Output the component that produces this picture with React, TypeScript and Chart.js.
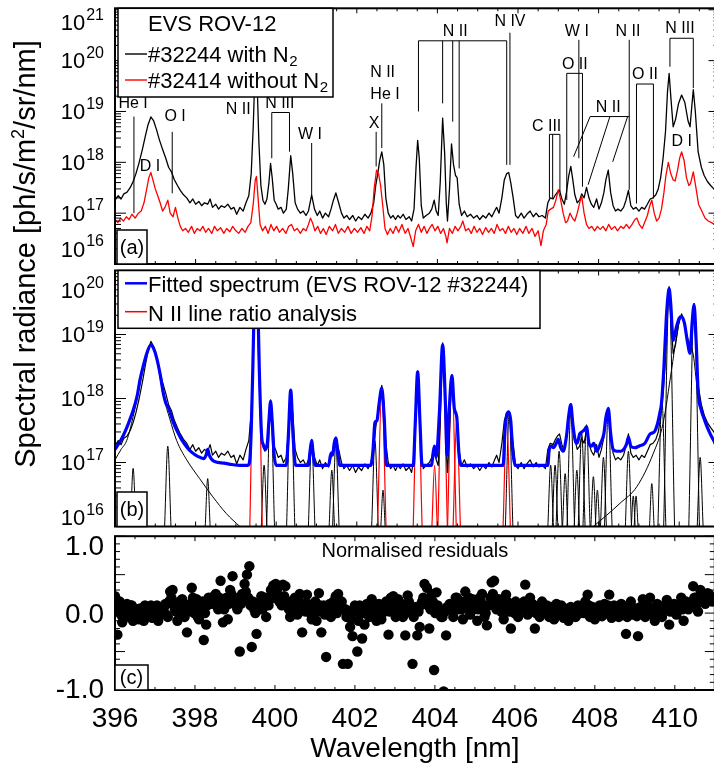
import React, { useEffect, useRef } from "react";
import { Chart, registerables } from "chart.js";

Chart.register(...registerables);

const SANS = '"Liberation Sans", Arial, Helvetica, sans-serif';

// ---------------- axes ----------------
const WL_MIN = 396;
const WL_MAX = 411;
const xTickLabels = [396, 398, 400, 402, 404, 406, 408, 410];
const panelADecades = [16, 17, 18, 19, 20, 21];
const panelBDecades = [16, 17, 18, 19, 20];
const residualTickValues = [-1, 0, 1];
const residualTickLabels = ["-1.0", "0.0", "1.0"];

// ---------------- panel (a): measured spectra ----------------
// [wavelength nm, spectral radiance ph/s/m^2/sr/nm]
const shot32244: [number, number][] = [
  [396.00,1.8e17],[396.08,2.2e17],[396.15,1.9e17],[396.22,2.4e17],[396.30,2.6e17],[396.38,3.2e17],[396.45,4.2e17],[396.52,6.0e17],[396.60,1.0e18],[396.68,1.8e18],
  [396.75,3.2e18],[396.82,5.5e18],[396.89,7.8e18],[396.96,6.5e18],[397.03,4.4e18],[397.10,2.8e18],[397.18,1.8e18],[397.26,1.2e18],[397.33,8.0e17],[397.40,6.5e17],
  [397.47,4.6e17],[397.55,3.5e17],[397.62,2.8e17],[397.70,2.3e17],[397.78,2.0e17],[397.86,1.6e17],[397.93,1.9e17],[398.00,1.5e17],[398.08,1.7e17],[398.15,1.4e17],
  [398.22,1.6e17],[398.30,1.5e17],[398.36,1.9e17],[398.42,1.3e17],[398.50,1.5e17],[398.57,1.2e17],[398.64,1.4e17],[398.72,1.3e17],[398.80,1.5e17],[398.88,1.2e17],
  [398.95,1.3e17],[399.02,9.5e16],[399.10,1.3e17],[399.18,1.1e17],[399.25,1.6e17],[399.32,2.2e17],[399.38,6.0e17],[399.43,5.0e18],[399.47,5.0e19],[399.50,2.0e20],
  [399.53,3.0e19],[399.57,2.5e18],[399.62,3.5e17],[399.67,1.8e17],[399.72,1.5e17],[399.77,1.9e17],[399.82,4.0e17],[399.86,9.5e17],[399.90,5.0e17],[399.95,1.8e17],
  [400.00,1.5e17],[400.05,1.2e17],[400.12,1.3e17],[400.18,1.0e17],[400.25,1.2e17],[400.30,3.0e17],[400.36,1.35e18],[400.41,6.0e17],[400.47,1.6e17],[400.53,1.2e17],
  [400.60,1.0e17],[400.67,1.1e17],[400.74,9.0e16],[400.80,1.1e17],[400.88,2.3e17],[400.95,1.2e17],[401.02,9.0e16],[401.08,1.1e17],[401.15,8.0e16],[401.22,1.0e17],
  [401.30,8.5e16],[401.36,1.2e17],[401.42,1.8e17],[401.48,2.5e17],[401.55,1.6e17],[401.62,1.0e17],[401.68,8.0e16],[401.75,9.0e16],[401.82,7.5e16],[401.90,9.0e16],
  [401.97,7.0e16],[402.04,8.5e16],[402.12,7.5e16],[402.20,9.5e16],[402.28,8.0e16],[402.35,1.0e17],[402.42,1.6e17],[402.47,3.5e17],[402.52,6.0e17],[402.57,1.1e18],
  [402.62,1.6e18],[402.67,9.0e17],[402.72,2.0e17],[402.78,1.0e17],[402.84,8.0e16],[402.90,9.0e16],[402.96,7.5e16],[403.02,9.0e16],[403.08,8.0e16],[403.15,9.5e16],
  [403.22,7.5e16],[403.30,8.5e16],[403.36,7.0e16],[403.42,1.2e17],[403.47,8.0e17],[403.51,2.7e18],[403.55,1.2e18],[403.60,1.4e17],[403.65,8.0e16],[403.72,9.0e16],
  [403.80,1.0e17],[403.86,1.2e17],[403.92,1.8e17],[403.97,1.1e17],[404.02,9.0e16],[404.07,4.0e17],[404.13,7.4e18],[404.18,1.5e18],[404.22,1.6e17],[404.25,7.0e16],
  [404.30,3.0e17],[404.35,2.3e18],[404.40,9.0e17],[404.45,5.5e17],[404.49,5.0e17],[404.54,1.5e17],[404.60,9.0e16],[404.67,1.1e17],[404.74,8.5e16],[404.82,9.5e16],
  [404.90,8.0e16],[404.98,9.0e16],[405.05,7.5e16],[405.13,9.0e16],[405.20,8.0e16],[405.28,1.0e17],[405.35,8.5e16],[405.42,1.1e17],[405.47,1.3e17],[405.53,1.0e17],
  [405.60,2.0e17],[405.66,4.5e17],[405.72,6.0e17],[405.77,6.3e17],[405.82,4.0e17],[405.88,2.0e17],[405.94,9.0e16],[406.00,8.0e16],[406.08,1.0e17],[406.15,8.0e16],
  [406.22,9.5e16],[406.30,1.1e17],[406.38,8.5e16],[406.45,1.0e17],[406.52,8.5e16],[406.60,9.0e16],[406.68,8.0e16],[406.74,1.6e17],[406.80,2.0e17],[406.87,1.9e17],
  [406.93,2.3e17],[406.98,2.6e17],[407.03,2.8e17],[407.09,1.9e17],[407.15,1.5e17],[407.20,2.5e17],[407.26,5.5e17],[407.31,8.3e17],[407.36,4.5e17],[407.41,2.3e17],
  [407.47,1.6e17],[407.53,1.8e17],[407.58,2.4e17],[407.64,2.0e17],[407.70,3.2e17],[407.76,2.0e17],[407.82,1.5e17],[407.88,1.3e17],[407.95,1.9e17],[408.01,1.2e17],
  [408.07,1.6e17],[408.13,2.5e17],[408.18,4.5e17],[408.24,7.0e17],[408.30,2.5e17],[408.36,1.4e17],[408.42,1.1e17],[408.48,1.2e17],[408.55,1.1e17],[408.62,1.3e17],
  [408.68,1.8e17],[408.74,2.8e17],[408.80,1.4e17],[408.86,1.2e17],[408.93,1.3e17],[409.00,1.1e17],[409.07,1.3e17],[409.14,1.2e17],[409.21,1.5e17],[409.28,1.9e17],
  [409.35,2.0e17],[409.42,2.3e17],[409.48,3.0e17],[409.54,5.0e17],[409.60,1.2e18],[409.66,4.0e18],[409.71,2.5e19],[409.75,5.6e19],[409.80,1.6e19],[409.85,5.0e18],
  [409.91,7.0e18],[409.98,1.4e19],[410.06,2.1e19],[410.14,1.5e19],[410.22,6.5e18],[410.27,5.0e18],[410.31,1.2e19],[410.35,2.7e19],[410.40,1.0e19],[410.47,1.6e18],
  [410.55,8.0e17],[410.62,5.5e17],[410.70,4.2e17],[410.78,3.5e17],[410.86,3.0e17],[410.95,2.6e17],[411.00,2.5e17],
];

const shot32414: [number, number][] = [
  [396.00,7.5e16],[396.07,6.5e16],[396.14,8.0e16],[396.21,7.0e16],[396.28,8.5e16],[396.35,7.5e16],[396.42,9.5e16],[396.50,8.0e16],[396.58,1.0e17],[396.65,1.1e17],
  [396.72,1.6e17],[396.78,2.8e17],[396.84,5.0e17],[396.89,6.3e17],[396.94,4.5e17],[397.00,3.0e17],[397.06,2.2e17],[397.12,1.6e17],[397.18,1.1e17],[397.24,1.3e17],
  [397.31,1.8e17],[397.37,1.0e17],[397.44,8.5e16],[397.50,1.3e17],[397.56,8.0e16],[397.62,5.5e16],[397.68,4.5e16],[397.75,5.0e16],[397.82,4.2e16],[397.90,5.5e16],
  [397.97,4.0e16],[398.04,5.0e16],[398.11,4.5e16],[398.18,5.5e16],[398.25,4.2e16],[398.32,5.0e16],[398.40,4.0e16],[398.47,5.5e16],[398.54,4.5e16],[398.62,5.2e16],
  [398.70,4.0e16],[398.77,5.0e16],[398.85,4.3e16],[398.92,5.5e16],[399.00,4.5e16],[399.07,4.0e16],[399.15,5.0e16],[399.23,4.2e16],[399.30,5.5e16],[399.37,6.5e16],
  [399.43,1.5e17],[399.48,4.5e17],[399.51,5.3e17],[399.55,2.0e17],[399.60,6.0e16],[399.66,4.5e16],[399.73,5.5e16],[399.80,4.0e16],[399.87,6.0e16],[399.94,4.5e16],
  [400.01,5.5e16],[400.08,4.2e16],[400.16,5.0e16],[400.24,4.0e16],[400.31,5.5e16],[400.38,6.0e16],[400.45,4.5e16],[400.52,5.0e16],[400.60,4.0e16],[400.67,5.0e16],
  [400.74,4.5e16],[400.80,6.0e16],[400.85,8.0e16],[400.90,6.5e16],[400.96,4.5e16],[401.03,5.5e16],[401.10,4.0e16],[401.17,5.0e16],[401.24,3.8e16],[401.32,5.5e16],
  [401.40,4.5e16],[401.47,6.0e16],[401.54,4.0e16],[401.62,5.0e16],[401.70,4.2e16],[401.78,5.5e16],[401.86,4.0e16],[401.94,5.0e16],[402.02,4.2e16],[402.10,5.2e16],
  [402.18,4.0e16],[402.25,5.5e16],[402.32,4.5e16],[402.38,9.0e16],[402.43,3.0e17],[402.49,7.0e17],[402.54,6.0e17],[402.59,3.5e17],[402.64,1.5e17],[402.70,5.0e16],
  [402.76,3.8e16],[402.83,5.0e16],[402.90,4.0e16],[402.97,5.5e16],[403.04,4.2e16],[403.12,6.0e16],[403.20,4.0e16],[403.27,5.0e16],[403.33,3.5e16],[403.40,2.2e16],
  [403.46,4.5e16],[403.53,6.0e16],[403.60,4.2e16],[403.67,5.5e16],[403.74,4.0e16],[403.80,5.0e16],[403.87,6.0e16],[403.94,4.5e16],[404.01,5.5e16],[404.08,4.0e16],
  [404.15,5.0e16],[404.21,3.5e16],[404.24,2.6e16],[404.30,5.0e16],[404.37,4.0e16],[404.44,5.5e16],[404.51,4.5e16],[404.58,5.5e16],[404.63,7.0e16],[404.70,4.5e16],
  [404.77,5.0e16],[404.84,4.0e16],[404.91,5.5e16],[404.98,4.2e16],[405.05,5.0e16],[405.12,3.8e16],[405.20,5.2e16],[405.27,4.2e16],[405.34,5.0e16],[405.41,4.0e16],
  [405.48,6.0e16],[405.55,4.5e16],[405.62,5.0e16],[405.69,4.0e16],[405.76,5.5e16],[405.83,4.2e16],[405.90,5.0e16],[405.97,3.8e16],[406.04,5.0e16],[406.12,4.0e16],
  [406.20,5.5e16],[406.27,4.0e16],[406.35,5.0e16],[406.42,3.5e16],[406.50,4.5e16],[406.57,2.3e16],[406.63,4.5e16],[406.70,6.0e16],[406.75,1.1e17],[406.81,1.2e17],
  [406.88,1.3e17],[406.94,1.8e17],[407.00,2.9e17],[407.06,1.8e17],[407.12,1.0e17],[407.18,6.5e16],[407.23,7.0e16],[407.29,1.0e17],[407.35,8.0e16],[407.41,7.0e16],
  [407.47,1.0e17],[407.53,1.6e17],[407.58,2.2e17],[407.64,1.0e17],[407.70,6.0e16],[407.76,5.0e16],[407.83,5.5e16],[407.90,4.5e16],[407.97,5.5e16],[408.04,4.8e16],
  [408.11,5.5e16],[408.18,4.5e16],[408.25,6.0e16],[408.32,4.8e16],[408.40,5.5e16],[408.47,4.5e16],[408.55,5.5e16],[408.62,5.0e16],[408.69,6.0e16],[408.76,5.0e16],
  [408.83,6.0e16],[408.90,7.5e16],[408.95,8.0e16],[409.01,6.0e16],[409.08,5.0e16],[409.14,6.5e16],[409.21,9.0e16],[409.27,1.4e17],[409.32,1.8e17],[409.38,1.0e17],
  [409.44,7.0e16],[409.50,8.0e16],[409.56,1.2e17],[409.62,2.5e17],[409.67,5.5e17],[409.73,1.0e18],[409.79,6.0e17],[409.85,4.5e17],[409.90,4.3e17],[409.96,7.0e17],
  [410.01,1.2e18],[410.06,1.6e18],[410.12,1.1e18],[410.18,5.0e17],[410.24,3.5e17],[410.28,3.8e17],[410.35,6.5e17],[410.42,3.0e17],[410.48,1.5e17],[410.56,1.1e17],
  [410.64,8.0e16],[410.72,7.0e16],[410.80,6.5e16],[410.88,6.0e16],[411.00,6.0e16],
];

// ---------------- panel (b): fit and its components ----------------
const fitSpectrum: [number, number][] = [
  [396.00,1.6e17],[396.10,2.0e17],[396.20,2.6e17],[396.30,3.6e17],[396.40,5.3e17],[396.45,6.5e17],[396.55,1.1e18],[396.62,1.95e18],[396.70,3.2e18],[396.79,5.1e18],
  [396.89,6.9e18],[396.96,6.0e18],[397.03,4.4e18],[397.12,2.4e18],[397.20,1.2e18],[397.27,8.2e17],[397.31,7.6e17],[397.36,6.2e17],[397.45,4.2e17],[397.53,3.2e17],
  [397.65,2.3e17],[397.78,1.75e17],[397.90,1.45e17],[398.05,1.25e17],[398.20,1.15e17],[398.26,1.3e17],[398.30,1.6e17],[398.34,1.3e17],[398.45,1.05e17],[398.70,9.8e16],
  [398.90,9.3e16],[399.10,9.0e16],[399.30,9.0e16],[399.36,1.5e17],[399.42,3.0e18],[399.47,8.0e19],[399.50,2.0e20],[399.53,8.0e19],[399.58,3.0e18],[399.64,2.5e17],
  [399.68,1.9e17],[399.73,1.6e17],[399.78,2.0e17],[399.82,4.5e17],[399.86,9.0e17],[399.90,4.5e17],[399.95,1.3e17],[400.00,9.0e16],[400.25,9.0e16],[400.30,2.5e17],
  [400.36,1.35e18],[400.42,2.5e17],[400.48,9.0e16],[400.80,9.0e16],[400.84,1.5e17],[400.88,2.2e17],[400.92,1.3e17],[400.97,9.0e16],[401.30,9.0e16],[401.36,1.4e17],
  [401.40,1.3e17],[401.44,2.0e17],[401.48,2.4e17],[401.53,1.4e17],[401.58,9.0e16],[402.35,9.0e16],[402.40,1.5e17],[402.45,4.2e17],[402.50,4.5e17],[402.55,8.0e17],
  [402.62,1.45e18],[402.68,5.0e17],[402.74,9.0e16],[403.40,9.0e16],[403.45,4.0e17],[403.51,2.6e18],[403.57,4.0e17],[403.62,9.0e16],[403.85,9.0e16],[403.90,1.5e17],
  [403.93,1.8e17],[403.97,1.2e17],[404.05,6.0e17],[404.13,6.9e18],[404.20,8.0e17],[404.24,1.3e17],[404.29,6.0e17],[404.36,2.3e18],[404.42,7.0e17],[404.48,5.2e17],
  [404.53,1.5e17],[404.58,9.0e16],[405.63,9.0e16],[405.68,3.5e17],[405.72,5.5e17],[405.77,6.2e17],[405.82,4.5e17],[405.87,1.5e17],[405.93,9.0e16],[406.74,9.0e16],
  [406.77,1.5e17],[406.82,1.8e17],[406.88,1.7e17],[406.95,2.0e17],[407.00,2.3e17],[407.06,1.7e17],[407.12,1.5e17],[407.20,2.5e17],[407.26,5.5e17],[407.31,8.0e17],
  [407.36,4.0e17],[407.42,2.2e17],[407.47,2.0e17],[407.53,2.8e17],[407.58,3.0e17],[407.64,3.2e17],[407.70,3.6e17],[407.76,2.0e17],[407.82,1.8e17],[407.88,2.0e17],
  [407.95,1.5e17],[408.05,2.0e17],[408.13,2.8e17],[408.18,5.0e17],[408.24,7.0e17],[408.30,2.8e17],[408.36,1.6e17],[408.45,1.5e17],[408.55,1.5e17],[408.65,1.7e17],
  [408.70,2.0e17],[408.74,2.5e17],[408.80,1.8e17],[408.90,1.7e17],[409.00,1.8e17],[409.15,2.0e17],[409.28,2.8e17],[409.38,3.0e17],[409.46,4.0e17],[409.52,6.0e17],
  [409.56,8.3e17],[409.62,3.0e18],[409.68,1.8e19],[409.73,4.5e19],[409.75,5.2e19],[409.79,3.0e19],[409.85,8.1e18],[409.93,1.3e19],[410.00,1.8e19],[410.06,1.9e19],
  [410.13,1.5e19],[410.20,8.0e18],[410.27,5.1e18],[410.32,1.5e19],[410.37,2.9e19],[410.42,8.0e18],[410.47,1.3e18],[410.55,6.5e17],[410.60,5.2e17],[410.70,3.5e17],
  [410.86,2.2e17],[411.00,1.8e17],
];

// broad D I (Lorentzian-like) components
const deuterium397: [number, number][] = [
  [396.00,1.1e17],[396.15,1.6e17],[396.29,2.2e17],[396.45,5.2e17],[396.62,1.7e18],[396.79,5.1e18],[396.89,7.2e18],[397.03,4.2e18],[397.20,1.1e18],[397.36,4.8e17],
  [397.53,2.2e17],[397.78,1.1e17],[398.10,5.6e16],[398.43,2.9e16],[398.76,1.6e16],[399.10,1.0e16],[399.40,7.0e15],
];
const deuterium410: [number, number][] = [
  [407.60,7.0e15],[407.87,1.0e16],[408.20,1.5e16],[408.53,2.3e16],[408.95,4.2e16],[409.36,1.4e17],[409.60,4.1e17],[409.81,2.8e18],[409.93,9.0e18],[410.06,2.0e19],
  [410.18,1.0e19],[410.35,4.8e18],[410.45,1.4e18],[410.52,9.0e17],[410.68,4.1e17],[410.86,2.0e17],[411.00,1.3e17],
];

// narrow components: [centre nm, peak radiance, half-width at 1e16 (nm)]
const otherLines: [number, number, number][] = [
  [396.45,8.1e16,0.067],[397.31,1.8e17,0.079],[398.30,5.6e16,0.061],[399.70,9.1e16,0.069],[399.86,9.0e17,0.098],
  [400.36,1.35e18,0.102],[400.88,2.2e17,0.081],[401.38,7.6e16,0.066],[401.48,2.0e17,0.08],[402.45,2.2e17,0.081],
  [402.65,3.7e16,0.053],[405.78,5.6e17,0.093],[406.81,9.1e16,0.069],[406.92,9.1e16,0.069],[407.02,1.5e17,0.076],
  [407.17,6.7e16,0.064],[407.31,6.2e17,0.094],[407.46,7.6e16,0.066],[407.58,2.9e17,0.085],[407.70,3.9e17,0.088],
  [407.87,6.0e16,0.062],[407.97,3.7e16,0.053],[408.12,1.2e17,0.073],[408.24,6.2e17,0.094],[408.74,1.5e17,0.076],
  [408.86,3.0e16,0.048],[408.93,3.0e16,0.048],[409.32,4.7e16,0.057],[409.57,9.6e17,0.099],[409.75,4.4e19,0.135],
  [410.37,3.1e19,0.132],[410.52,1.2e17,0.073],
];
const n2Lines: [number, number, number][] = [
  [399.50,2.0e20,0.155],[402.62,1.45e18,0.105],[403.51,2.6e18,0.11],[403.93,9.0e16,0.066],
  [404.13,6.9e18,0.117],[404.36,2.3e18,0.108],[404.48,5.0e17,0.09],[405.72,5.0e17,0.09],
];

// ---------------- panel (c): residuals (two interleaved pixel sets) ----------------
const residualStart = 396.0;
const residualStep = 0.06;
const residuals: number[] = [
  0.22,-0.28,0.15,-0.12,0.08,0.12,-0.05,0.1,-0.08,0.05,
  -0.08,0.05,-0.1,0.08,-0.02,0.1,-0.06,0.04,-0.1,0.06,
  0.0,0.12,-0.05,0.28,0.3,0.05,-0.1,0.15,0.18,-0.05,
  -0.25,0.1,0.33,0.0,0.18,-0.08,0.05,-0.35,-0.15,0.2,
  0.2,0.15,0.25,0.05,0.42,-0.12,0.1,-0.08,0.3,0.48,
  0.18,0.05,-0.5,0.25,0.38,0.5,0.61,-0.44,0.05,-0.27,
  0.05,0.22,0.12,-0.05,0.1,0.3,0.36,0.38,0.35,0.2,
  0.37,0.35,0.1,-0.05,0.15,0.2,-0.02,0.25,-0.25,0.12,
  0.24,0.05,-0.08,0.12,-0.1,0.26,-0.25,0.1,-0.57,0.1,
  -0.05,0.15,0.22,0.25,0.08,-0.66,0.05,-0.66,-0.18,-0.3,
  0.1,-0.5,0.1,-0.33,-0.15,0.12,-0.05,0.18,0.08,-0.1,
  0.12,-0.08,0.05,0.15,-0.28,0.2,0.22,-0.05,0.18,0.08,
  -0.05,-0.29,0.23,0.1,-0.66,0.05,-0.29,-0.18,0.15,0.38,
  0.33,-0.2,0.25,-0.74,0.27,0.03,-0.05,-1.02,-0.29,0.05,
  0.1,-0.05,0.2,0.05,0.15,-0.08,0.28,0.12,-0.02,0.18,
  0.08,-0.1,0.2,0.25,-0.05,-0.16,0.1,0.4,0.42,0.05,
  0.18,0.02,-0.08,0.24,0.1,-0.2,0.05,0.15,-0.05,0.12,
  0.05,0.37,-0.02,0.2,0.12,-0.2,0.08,-0.05,0.15,0.02,
  0.1,-0.05,0.08,-0.08,0.12,0.0,0.1,-0.06,0.05,-0.1,
  0.08,0.02,-0.05,0.1,0.0,0.06,0.15,0.24,-0.05,0.08,
  -0.08,0.05,0.1,-0.04,0.12,0.0,0.24,-0.06,0.1,0.05,
  -0.05,0.12,0.02,-0.27,0.1,0.15,-0.02,0.06,-0.3,0.08,
  0.18,-0.05,0.1,0.2,0.0,-0.1,0.12,0.05,-0.05,0.1,
  0.17,-0.15,0.05,0.12,-0.02,0.08,0.2,-0.1,0.15,0.05,
  0.1,0.35,0.2,0.02,0.3,0.24,0.12,0.26,0.18,0.15,
  0.2,
];
const residualsOffsetStart = 396.03;
const residualsOffset: number[] = [
  0.05,0.12,-0.02,0.08,-0.05,0.02,0.1,-0.1,0.04,0.0,
  0.06,-0.04,0.1,0.0,0.08,-0.06,0.05,0.1,-0.02,0.04,
  0.08,-0.02,0.15,0.2,0.1,0.02,0.08,-0.02,0.12,0.05,
  0.02,0.12,0.2,0.08,-0.05,0.12,0.15,0.0,0.1,0.18,
  0.12,0.22,0.1,0.2,0.15,0.05,0.2,0.12,0.25,0.15,
  0.1,0.2,0.12,0.18,0.28,0.2,0.1,0.15,0.0,0.1,
  0.15,0.05,0.2,0.12,0.18,0.25,0.2,0.3,0.15,0.1,
  0.22,0.12,0.05,0.15,0.08,0.12,0.18,0.05,0.1,0.02,
  0.12,0.0,0.08,0.15,0.02,0.1,0.05,-0.02,0.08,0.12,
  0.05,0.1,0.0,0.12,0.15,0.05,-0.05,0.02,-0.08,0.05,
  0.02,-0.1,0.05,0.0,0.1,-0.02,0.08,0.12,0.0,0.05,
  0.08,0.0,0.12,0.05,0.02,0.1,0.15,0.05,0.1,0.12,
  0.05,0.1,0.15,0.0,-0.05,0.08,0.02,0.1,0.2,0.15,
  0.1,0.05,0.15,0.0,0.1,0.05,-0.05,0.02,0.08,0.12,
  0.05,0.12,0.2,0.1,0.05,0.15,0.08,0.2,0.1,0.05,
  0.12,0.05,0.15,0.08,0.0,0.1,0.2,0.25,0.12,0.1,
  0.05,0.12,0.08,0.15,0.02,0.1,0.0,0.12,0.08,0.05,
  0.15,0.08,0.12,0.05,0.1,0.0,0.05,0.1,0.02,0.08,
  0.02,0.06,-0.04,0.05,0.08,-0.02,0.04,0.06,0.0,0.05,
  0.04,-0.03,0.06,0.02,0.08,0.0,0.05,0.1,0.02,0.0,
  0.05,-0.02,0.06,0.08,0.02,0.1,0.05,0.0,0.06,0.02,
  0.04,0.0,0.08,-0.05,0.02,0.06,0.03,-0.04,0.05,0.02,
  0.06,0.02,0.08,0.05,-0.03,0.04,0.08,0.0,0.06,0.1,
  0.05,0.02,0.1,0.06,0.04,0.12,0.05,0.08,0.1,0.12,
  0.15,0.2,0.12,0.18,0.22,0.15,0.2,0.25,0.18,0.2,
];

// ---------------- panel (a) line identifications ----------------
// text centre: wavelength, log10(radiance)
const lineLabels: { text: string; wl: number; exp: number }[] = [
  { text: "He I", wl: 396.45, exp: 19.16 },
  { text: "D I", wl: 396.87, exp: 17.92 },
  { text: "O I", wl: 397.49, exp: 18.9 },
  { text: "N II", wl: 399.06, exp: 19.03 },
  { text: "N III", wl: 400.09, exp: 19.16 },
  { text: "W I", wl: 400.84, exp: 18.54 },
  { text: "X", wl: 402.43, exp: 18.76 },
  { text: "N II", wl: 402.64, exp: 19.77 },
  { text: "He I", wl: 402.7, exp: 19.33 },
  { text: "N II", wl: 404.44, exp: 20.57 },
  { text: "N IV", wl: 405.8, exp: 20.77 },
  { text: "C III", wl: 406.71, exp: 18.7 },
  { text: "O II", wl: 407.41, exp: 19.92 },
  { text: "W I", wl: 407.46, exp: 20.57 },
  { text: "N II", wl: 408.24, exp: 19.07 },
  { text: "N II", wl: 408.73, exp: 20.57 },
  { text: "O II", wl: 409.15, exp: 19.72 },
  { text: "N III", wl: 410.02, exp: 20.64 },
  { text: "D I", wl: 410.06, exp: 18.41 },
];
// marker segments: [wl1, log10 y1, wl2, log10 y2]
const labelSegments: [number, number, number, number][] = [
  [396.47,18.9,396.47,17.0],[397.42,18.6,397.42,17.39],
  [399.89,18.98,400.33,18.98],[399.89,18.98,399.89,18.08],[400.33,18.98,400.33,18.21],
  [400.88,18.38,400.88,17.36],[402.48,18.6,402.48,17.92],[402.62,19.16,402.62,18.28],
  [403.53,20.39,405.72,20.39],[403.53,20.39,403.53,19.0],[404.13,20.39,404.13,19.16],[404.38,20.39,404.38,18.8],
  [404.54,20.39,404.54,17.88],[405.72,20.39,405.72,17.95],[405.8,20.55,405.8,17.95],
  [406.78,18.55,407.04,18.55],[406.78,18.55,406.78,17.3],[406.86,18.55,406.86,17.3],[407.04,18.55,407.04,17.42],
  [407.21,19.75,407.6,19.75],[407.21,19.75,407.21,17.26],[407.6,19.75,407.6,17.52],
  [407.51,20.41,407.51,18.08],
  [407.79,18.9,408.76,18.9],[407.79,18.9,407.38,18.11],[408.28,18.9,407.74,17.56],[408.72,18.9,408.35,18.01],
  [408.76,20.41,408.76,17.46],
  [408.94,19.54,409.36,19.54],[408.94,19.54,408.94,17.19],[409.36,19.54,409.36,17.29],
  [409.77,20.44,410.35,20.44],[409.77,20.44,409.77,19.88],[410.35,20.44,410.35,19.46],
];

// ---------------- helpers ----------------
const toPts = (arr: [number, number][]) => arr.map(([x, y]) => ({ x, y }));
const spikePts = ([c, p, w]: [number, number, number]) => [
  { x: c - w, y: 1e16 },
  { x: c, y: p },
  { x: c + w, y: 1e16 },
];

function baseOptions(padding: any, y: any): any {
  return {
    animation: false,
    responsive: false,
    devicePixelRatio: 1,
    events: [],
    layout: { padding },
    plugins: { legend: { display: false }, tooltip: { enabled: false }, title: { display: false } },
    elements: { point: { radius: 0 }, line: { tension: 0, borderJoinStyle: "round" } },
    scales: {
      x: { type: "linear", min: WL_MIN, max: WL_MAX, display: false },
      y: { ...y, display: false },
    },
  };
}

function drawFrame(chart: any, log: boolean, yMajor: number, yMinor: number) {
  const { ctx, chartArea: a } = chart;
  const xs = chart.scales.x;
  const ys = chart.scales.y;
  ctx.save();
  ctx.strokeStyle = "#000";
  ctx.lineWidth = 1;
  ctx.beginPath();
  for (let k = 0; k <= (WL_MAX - WL_MIN) * 2; k++) {
    const v = WL_MIN + k * 0.5;
    const px = xs.getPixelForValue(v);
    const len = k % 4 === 0 ? 5 : 3;
    ctx.moveTo(px, a.bottom);
    ctx.lineTo(px, a.bottom - len);
    ctx.moveTo(px, a.top);
    ctx.lineTo(px, a.top + len);
  }
  const yt: [number, boolean][] = [];
  if (log) {
    const e0 = Math.floor(Math.log10(ys.min));
    const e1 = Math.ceil(Math.log10(ys.max));
    for (let e = e0; e <= e1; e++) {
      for (let m = 1; m <= 9; m++) {
        const v = m * Math.pow(10, e);
        if (v < ys.min * 0.999 || v > ys.max * 1.001) continue;
        yt.push([ys.getPixelForValue(v), m === 1]);
      }
    }
  } else {
    for (let k = -10; k <= 10; k++) yt.push([ys.getPixelForValue(k / 10), k % 5 === 0]);
  }
  for (const [py, major] of yt) {
    const len = major ? yMajor : yMinor;
    ctx.moveTo(a.left, py);
    ctx.lineTo(a.left + len, py);
    ctx.moveTo(a.right, py);
    ctx.lineTo(a.right - len, py);
  }
  ctx.stroke();
  ctx.lineWidth = 2;
  ctx.strokeRect(a.left, a.top, a.right - a.left, a.bottom - a.top);
  ctx.restore();
}

function drawPow(ctx: any, e: number, right: number, cy: number) {
  ctx.textAlign = "left";
  ctx.textBaseline = "alphabetic";
  ctx.font = `16px ${SANS}`;
  const sw = ctx.measureText(String(e)).width;
  ctx.font = `22px ${SANS}`;
  const bw = ctx.measureText("10").width;
  const base = cy + 7.8;
  ctx.fillText("10", right - sw - bw - 1, base);
  ctx.font = `16px ${SANS}`;
  ctx.fillText(String(e), right - sw, base - 10.5);
}

function drawLogLabels(chart: any, decades: number[], mTop: number, mBot: number) {
  const { ctx, chartArea: a } = chart;
  const ys = chart.scales.y;
  ctx.save();
  ctx.fillStyle = "#000";
  for (const e of decades) {
    let cy = ys.getPixelForValue(Math.pow(10, e));
    cy = Math.min(Math.max(cy, a.top + mTop), a.bottom - mBot);
    drawPow(ctx, e, 104, cy);
  }
  ctx.restore();
}

function seg(ctx: any, x1: number, y1: number, x2: number, y2: number, color: string, w: number) {
  ctx.save();
  ctx.strokeStyle = color;
  ctx.lineWidth = w;
  ctx.beginPath();
  ctx.moveTo(x1, y1);
  ctx.lineTo(x2, y2);
  ctx.stroke();
  ctx.restore();
}

function textWithSub(ctx: any, main: string, sub: string, x: number, base: number) {
  ctx.textAlign = "left";
  ctx.textBaseline = "alphabetic";
  ctx.font = `22px ${SANS}`;
  ctx.fillText(main, x, base);
  const w = ctx.measureText(main).width;
  ctx.font = `15px ${SANS}`;
  ctx.fillText(sub, x + w + 0.5, base + 4.5);
}

function panelTag(ctx: any, text: string, x: number, y: number, w: number, h: number) {
  ctx.save();
  ctx.fillStyle = "#fff";
  ctx.fillRect(x, y, w, h);
  ctx.strokeStyle = "#000";
  ctx.lineWidth = 1.5;
  ctx.strokeRect(x, y, w, h);
  ctx.fillStyle = "#000";
  ctx.font = `20px ${SANS}`;
  ctx.textAlign = "center";
  ctx.textBaseline = "middle";
  ctx.fillText(text, x + w / 2, y + h / 2 + 1);
  ctx.restore();
}

// ---------------- charts ----------------
function buildA(canvas: HTMLCanvasElement) {
  return new Chart(canvas, {
    type: "line",
    data: {
      datasets: [
        { data: toPts(shot32414), borderColor: "#ff0000", borderWidth: 1.3, clip: 0, order: 0 } as any,
        { data: toPts(shot32244), borderColor: "#000000", borderWidth: 1.3, clip: 0, order: 1 } as any,
      ],
    },
    options: baseOptions({ left: 115, right: 0.5, top: 8.3, bottom: 4 }, { type: "logarithmic", min: 1e16, max: 1.07e21 }),
    plugins: [
      {
        id: "panelA",
        afterDraw(chart: any) {
          const ctx = chart.ctx;
          const xs = chart.scales.x;
          const ys = chart.scales.y;
          ctx.save();
          ctx.strokeStyle = "#000";
          ctx.lineWidth = 1;
          ctx.beginPath();
          for (const [w1, e1, w2, e2] of labelSegments) {
            ctx.moveTo(xs.getPixelForValue(w1), ys.getPixelForValue(Math.pow(10, e1)));
            ctx.lineTo(xs.getPixelForValue(w2), ys.getPixelForValue(Math.pow(10, e2)));
          }
          ctx.stroke();
          ctx.fillStyle = "#000";
          ctx.font = `16px ${SANS}`;
          ctx.textAlign = "center";
          ctx.textBaseline = "middle";
          for (const l of lineLabels) {
            ctx.fillText(l.text, xs.getPixelForValue(l.wl), ys.getPixelForValue(Math.pow(10, l.exp)));
          }
          ctx.restore();
          drawFrame(chart, true, 11, 6);
          drawLogLabels(chart, panelADecades, 14, 15);
          ctx.save();
          ctx.fillStyle = "#fff";
          ctx.fillRect(118, 8.3, 215, 88.7);
          ctx.strokeStyle = "#000";
          ctx.lineWidth = 1.5;
          ctx.strokeRect(118, 8.3, 215, 88.7);
          ctx.fillStyle = "#000";
          ctx.font = `22px ${SANS}`;
          ctx.textAlign = "left";
          ctx.textBaseline = "alphabetic";
          ctx.fillText("EVS ROV-12", 148, 30.5);
          seg(ctx, 125, 54, 147, 54, "#000", 1.4);
          textWithSub(ctx, "#32244 with N", "2", 148, 61.5);
          seg(ctx, 125, 80, 147, 80, "#ff0000", 1.4);
          textWithSub(ctx, "#32414 without N", "2", 148, 87.5);
          ctx.restore();
          panelTag(ctx, "(a)", 117, 230, 30, 34);
        },
      },
    ],
  });
}

function buildB(canvas: HTMLCanvasElement) {
  const datasets: any[] = [
    { data: toPts(fitSpectrum), borderColor: "#0000ff", borderWidth: 3.2, cubicInterpolationMode: "monotone", clip: 0, order: 0 },
    { data: toPts(shot32244), borderColor: "#000000", borderWidth: 1.2, clip: 0, order: 1 },
  ];
  for (const l of n2Lines) {
    datasets.push({ data: spikePts(l), borderColor: "#ff0000", borderWidth: 1.2, cubicInterpolationMode: "monotone", clip: 0, order: 2 });
  }
  for (const l of otherLines) {
    datasets.push({ data: spikePts(l), borderColor: "#000000", borderWidth: 1, cubicInterpolationMode: "monotone", clip: 0, order: 3 });
  }
  datasets.push({ data: toPts(deuterium397), borderColor: "#000000", borderWidth: 1, cubicInterpolationMode: "monotone", clip: 0, order: 3 });
  datasets.push({ data: toPts(deuterium410), borderColor: "#000000", borderWidth: 1, cubicInterpolationMode: "monotone", clip: 0, order: 3 });
  return new Chart(canvas, {
    type: "line",
    data: { datasets },
    options: baseOptions({ left: 115, right: 0.5, top: 2.5, bottom: 4.5 }, { type: "logarithmic", min: 1e16, max: 1e20 }),
    plugins: [
      {
        id: "panelB",
        afterDraw(chart: any) {
          const ctx = chart.ctx;
          drawFrame(chart, true, 11, 6);
          drawLogLabels(chart, panelBDecades, 20, 9);
          ctx.save();
          ctx.fillStyle = "#fff";
          ctx.fillRect(118, 2.5, 422, 57.8);
          ctx.strokeStyle = "#000";
          ctx.lineWidth = 1.5;
          ctx.strokeRect(118, 2.5, 422, 57.8);
          seg(ctx, 125, 15.3, 147, 15.3, "#0000ff", 2.5);
          seg(ctx, 125, 43.7, 147, 43.7, "#ff0000", 1.5);
          ctx.fillStyle = "#000";
          ctx.font = `22px ${SANS}`;
          ctx.textAlign = "left";
          ctx.textBaseline = "alphabetic";
          ctx.fillText("Fitted spectrum (EVS ROV-12 #32244)", 148, 24.3);
          ctx.fillText("N II line ratio analysis", 148, 52.7);
          ctx.restore();
          panelTag(ctx, "(b)", 117, 224, 30, 34.5);
        },
      },
    ],
  });
}

function buildC(canvas: HTMLCanvasElement) {
  const ptsMain = residuals.map((v, i) => ({ x: residualStart + i * residualStep, y: v }));
  const ptsOffset = residualsOffset.map((v, i) => ({ x: residualsOffsetStart + i * residualStep, y: v }));
  const dotStyle = {
    showLine: false,
    pointRadius: 5.2,
    pointBackgroundColor: "#000",
    pointBorderColor: "#000",
    pointBorderWidth: 0,
    clip: 0,
  };
  return new Chart(canvas, {
    type: "line",
    data: {
      datasets: [
        { data: ptsOffset, ...dotStyle } as any,
        { data: ptsMain, ...dotStyle } as any,
      ],
    },
    options: baseOptions({ left: 115, right: 0.5, top: 5, bottom: 79 }, { type: "linear", min: -1, max: 1 }),
    plugins: [
      {
        id: "panelC",
        afterDraw(chart: any) {
          const { ctx, chartArea: a } = chart;
          const xs = chart.scales.x;
          const ys = chart.scales.y;
          drawFrame(chart, false, 10, 5);
          ctx.save();
          ctx.fillStyle = "#000";
          ctx.font = `28px ${SANS}`;
          ctx.textAlign = "right";
          ctx.textBaseline = "alphabetic";
          residualTickValues.forEach((v, i) => {
            let cy = ys.getPixelForValue(v);
            cy = Math.min(Math.max(cy, a.top + 9), a.bottom - 2.5);
            ctx.fillText(residualTickLabels[i], 104, cy + 10);
          });
          ctx.textAlign = "center";
          for (const v of xTickLabels) ctx.fillText(String(v), xs.getPixelForValue(v), a.bottom + 36.7);
          ctx.fillText("Wavelength [nm]", (a.left + a.right) / 2, a.bottom + 67);
          ctx.font = `20px ${SANS}`;
          ctx.fillText("Normalised residuals", (a.left + a.right) / 2, a.top + 21);
          ctx.restore();
          panelTag(ctx, "(c)", 115, 134, 33, 25);
        },
      },
    ],
  });
}

export default function App() {
  const refA = useRef<HTMLCanvasElement>(null);
  const refB = useRef<HTMLCanvasElement>(null);
  const refC = useRef<HTMLCanvasElement>(null);

  useEffect(() => {
    const charts = [buildA(refA.current!), buildB(refB.current!), buildC(refC.current!)];
    return () => charts.forEach((c) => c.destroy());
  }, []);

  return (
    <div style={{ position: "absolute", left: 0, top: 0, width: 714, height: 769, overflow: "hidden", background: "#fff" }}>
      <canvas ref={refA} width={720} height={268} style={{ position: "absolute", left: 0, top: 0, width: 720, height: 268 }} />
      <canvas ref={refB} width={720} height={263} style={{ position: "absolute", left: 0, top: 268, width: 720, height: 263 }} />
      <canvas ref={refC} width={720} height={238} style={{ position: "absolute", left: 0, top: 531, width: 720, height: 238 }} />
      <div
        style={{
          position: "absolute",
          left: 25 - 260,
          top: 254 - 18,
          width: 520,
          height: 36,
          lineHeight: "36px",
          textAlign: "center",
          whiteSpace: "nowrap",
          transform: "rotate(-90deg)",
          fontFamily: SANS,
          fontSize: 29,
          color: "#000",
        }}
      >
        Spectral radiance [ph/s/m<span style={{ fontSize: 18, position: "relative", top: -11 }}>2</span>/sr/nm]
      </div>
    </div>
  );
}
